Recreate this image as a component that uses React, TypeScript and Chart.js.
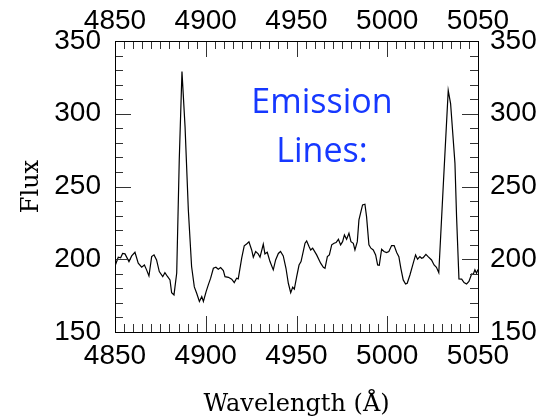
import React, { useEffect, useRef } from "react";
import { Chart, registerables } from "chart.js";

Chart.register(...registerables);

// ---- data ----
const wavelength = [
  4850.2, 4851.8, 4853.1, 4854.2, 4855.5, 4857.7, 4859.2, 4861.0, 4862.8, 4864.7,
  4866.2, 4867.4, 4868.7, 4870.2, 4871.5, 4872.9, 4874.4, 4876.3, 4877.5, 4879.0,
  4880.3, 4881.2, 4882.5, 4884.0, 4885.4, 4886.9, 4888.6, 4890.4, 4892.2, 4893.7,
  4895.0, 4896.5, 4897.8, 4898.7, 4900.2, 4901.4, 4902.7, 4904.2, 4905.6, 4906.9,
  4908.2, 4909.7, 4910.6, 4912.5, 4914.3, 4915.7, 4917.0, 4917.9, 4919.8, 4921.2,
  4922.5, 4923.8, 4925.3, 4926.2, 4927.5, 4928.9, 4929.9, 4931.7, 4932.6, 4933.9,
  4935.4, 4937.2, 4938.5, 4940.0, 4941.2, 4942.7, 4944.2, 4945.5, 4946.8, 4947.9,
  4948.8, 4950.1, 4951.4, 4952.5, 4953.7, 4954.7, 4955.6, 4956.9, 4957.8, 4958.9,
  4961.1, 4963.3, 4964.8, 4965.7, 4967.0, 4968.1, 4969.4, 4970.7, 4971.8, 4973.1,
  4974.3, 4975.4, 4976.4, 4977.6, 4978.9, 4980.0, 4981.3, 4982.2, 4983.5, 4984.4,
  4985.5, 4986.4, 4987.7, 4988.6, 4989.9, 4991.0, 4992.3, 4993.6, 4994.7, 4995.6,
  4996.9, 4998.2, 4999.6, 5000.9, 5002.4, 5003.8, 5005.2, 5006.4, 5007.5, 5008.8,
  5010.1, 5011.0, 5012.5, 5013.9, 5015.6, 5016.7, 5018.0, 5018.9, 5019.8, 5021.3,
  5022.5, 5024.4, 5025.8, 5027.1, 5028.4, 5031.0, 5033.6, 5034.9, 5037.3, 5038.2,
  5039.5, 5041.0, 5042.3, 5043.7, 5045.0, 5046.5, 5047.4, 5048.3, 5049.2, 5050.0,
];

const flux = [
  196, 201.4, 201, 204, 203.7, 198.4, 202.3, 204.8, 197.3, 194.5,
  196.1, 192.7, 188.5, 201.8, 203, 199.5, 191.5, 188, 190.8, 188,
  185.8, 177, 175.5, 190.5, 268, 329, 291, 234, 195, 181,
  176.6, 171, 174.3, 171, 177.8, 182.4, 187, 193.8, 194.5, 193.1,
  194.3, 192.2, 188, 187.6, 186.3, 184, 187, 186.5, 200.7, 209.2,
  210.5, 212, 206.4, 201.4, 205.3, 203.7, 201.4, 210.3, 203.7, 204.8,
  198.4, 192.7, 199.5, 204, 205.3, 202.3, 193.8, 183.5, 177, 180.8,
  179.4, 188, 196, 198.4, 205.3, 211, 212.6, 208.7, 206.4, 207.6,
  203, 197.3, 194.5, 193.8, 201.8, 203, 209.9, 211, 211.5, 213.7,
  209.9, 212.1, 216.7, 213.7, 217.9, 212.1, 211, 206.4, 212.1, 227,
  232.8, 237.3, 237.8, 229.3, 209.9, 207.6, 206.4, 203, 196.1, 195.9,
  206.9, 205.3, 204.6, 205.3, 209.4, 209.4, 204.6, 201.8, 193.8, 185.8,
  183, 183.5, 189.2, 195.4, 203, 200, 201.8, 200.7, 201.1, 203.4,
  201.8, 199.5, 196.1, 194.5, 190.8, 254, 316, 307, 266, 229,
  186.5, 186.3, 184, 183, 184.7, 189.9, 189.7, 192.7, 190.4, 193,
];

const xTickLabels = [4850, 4900, 4950, 5000, 5050];
const yTickLabels = [150, 200, 250, 300, 350];
const xMinorStep = 5;
const yMinorStep = 10;
const xTitle = "Wavelength (Å)";
const yTitle = "Flux";
const noteLines = ["Emission", "Lines:"];

// ---- styling / layout constants ----
const X_MIN = 4850, X_MAX = 5050, Y_MIN = 150, Y_MAX = 350;
const NOTE_X = 4964; // data-space centre of the note
const NOTE_BASELINES = [300.7, 267]; // data-space baselines of the note lines
const tickFont = { family: "'Liberation Sans', Arial, sans-serif", size: 28 };
const titleFont = { family: "'DejaVu Serif', serif", size: 24 };

const framePlugin = {
  id: "frameTicks",
  afterDatasetsDraw(chart: any) {
    const { ctx, chartArea: a, scales } = chart;
    const xs = scales.x, ys = scales.y;
    ctx.save();
    ctx.strokeStyle = "#333";
    ctx.lineWidth = 1;
    const seg = (x1: number, y1: number, x2: number, y2: number) => {
      ctx.beginPath();
      ctx.moveTo(x1, y1);
      ctx.lineTo(x2, y2);
      ctx.stroke();
    };
    for (let v = X_MIN; v <= X_MAX + 1e-6; v += xMinorStep) {
      const px = Math.round(xs.getPixelForValue(v)) + 0.5;
      const len = xTickLabels.includes(v) ? 16 : 8;
      seg(px, a.top, px, a.top + len);
      seg(px, a.bottom, px, a.bottom - len);
    }
    for (let v = Y_MIN; v <= Y_MAX + 1e-6; v += yMinorStep) {
      const py = Math.round(ys.getPixelForValue(v)) + 0.5;
      const len = yTickLabels.includes(v) ? 16 : 8;
      seg(a.left, py, a.left + len, py);
      seg(a.right, py, a.right - len, py);
    }
    ctx.strokeStyle = "#000";
    ctx.strokeRect(Math.round(a.left) + 0.5, Math.round(a.top) + 0.5,
      Math.round(a.right - a.left), Math.round(a.bottom - a.top));

    // note text
    ctx.fillStyle = "#1638ff";
    ctx.font = "34px 'Open Sans', sans-serif";
    ctx.textAlign = "center";
    ctx.textBaseline = "alphabetic";
    noteLines.forEach((t, i) => {
      ctx.fillText(t, xs.getPixelForValue(NOTE_X), ys.getPixelForValue(NOTE_BASELINES[i]));
    });
    ctx.restore();
  },
};

export default function App() {
  const ref = useRef<HTMLCanvasElement | null>(null);

  useEffect(() => {
    if (!ref.current) return;
    const fmt = (v: any) => String(v);
    const hideGrid = { display: false, drawTicks: false };
    const chart = new Chart(ref.current, {
      type: "scatter",
      data: {
        datasets: [
          {
            data: wavelength.map((w, i) => ({ x: w, y: flux[i] })),
            showLine: true,
            borderColor: "#000",
            borderWidth: 1.2,
            pointRadius: 0,
            tension: 0,
          },
        ],
      },
      options: {
        animation: false,
        responsive: true,
        maintainAspectRatio: false,
        layout: { padding: 0 },
        plugins: { legend: { display: false }, tooltip: { enabled: false } },
        scales: {
          x: {
            type: "linear",
            position: "bottom",
            min: X_MIN,
            max: X_MAX,
            afterBuildTicks: (s: any) => { s.ticks = xTickLabels.map((v) => ({ value: v })); },
            afterFit: (s: any) => { s.height = 88; },
            ticks: { callback: fmt, font: tickFont, color: "#000", padding: 7, maxRotation: 0, autoSkip: false },
            grid: hideGrid,
            border: { display: false },
            title: { display: true, text: xTitle, font: titleFont, color: "#000", padding: { top: 0, bottom: 1 } },
          },
          x2: {
            type: "linear",
            position: "top",
            min: X_MIN,
            max: X_MAX,
            afterBuildTicks: (s: any) => { s.ticks = xTickLabels.map((v) => ({ value: v })); },
            afterFit: (s: any) => { s.height = 41; },
            ticks: { callback: fmt, font: tickFont, color: "#000", padding: 3, maxRotation: 0, autoSkip: false },
            grid: hideGrid,
            border: { display: false },
          },
          y: {
            type: "linear",
            position: "left",
            min: Y_MIN,
            max: Y_MAX,
            afterBuildTicks: (s: any) => { s.ticks = yTickLabels.map((v) => ({ value: v })); },
            afterFit: (s: any) => { s.width = 115; },
            ticks: { callback: fmt, font: tickFont, color: "#000", padding: 14 },
            grid: hideGrid,
            border: { display: false },
            title: { display: true, text: yTitle, font: titleFont, color: "#000", padding: { top: 17, bottom: 0 } },
          },
          y2: {
            type: "linear",
            position: "right",
            min: Y_MIN,
            max: Y_MAX,
            afterBuildTicks: (s: any) => { s.ticks = yTickLabels.map((v) => ({ value: v })); },
            afterFit: (s: any) => { s.width = 64; },
            ticks: { callback: fmt, font: tickFont, color: "#000", padding: 12 },
            grid: hideGrid,
            border: { display: false },
          },
        },
      },
      plugins: [framePlugin],
    } as any);
    return () => chart.destroy();
  }, []);

  return (
    <div style={{ position: "fixed", left: 0, top: 0, width: 542, height: 420, background: "#fff" }}>
      <canvas ref={ref} />
    </div>
  );
}
